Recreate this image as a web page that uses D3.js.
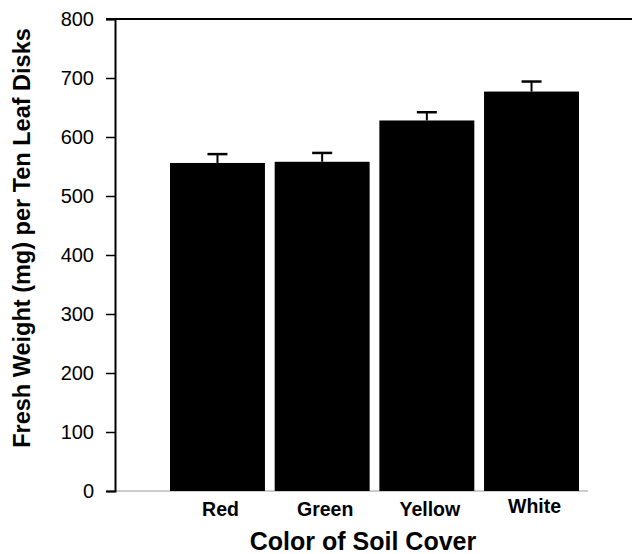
<!DOCTYPE html>
<html><head><meta charset="utf-8">
<script src="https://cdn.jsdelivr.net/npm/d3@7"></script>
<style>body{margin:0;background:#fff}svg{display:block}text{font-family:"Liberation Sans",Arial,sans-serif}</style>
</head><body>
<script>
const categories = ["Red","Green","Yellow","White"];
const values = [556, 558, 628, 677];
const errors = [15, 15, 14, 17];
const yTicks = [0,100,200,300,400,500,600,700,800];

const W=632,H=554;
const m={left:115,top:19,bottom:491};
const svg=d3.select("body").append("svg").attr("width",W).attr("height",H);
const y=d3.scaleLinear().domain([0,800]).range([m.bottom,m.top]);
const x=d3.scaleBand().domain(categories).range([170,579]).paddingInner(0.093).paddingOuter(0);

// bottom baseline
svg.append("line").attr("x1",m.left).attr("x2",588).attr("y1",m.bottom).attr("y2",m.bottom).attr("stroke","#999").attr("stroke-width",1);
// top line
svg.append("line").attr("x1",106).attr("x2",W).attr("y1",y(800)).attr("y2",y(800)).attr("stroke","#000").attr("stroke-width",2);

// bars
svg.selectAll("rect.bar").data(categories).join("rect")
  .attr("x",d=>x(d)).attr("width",x.bandwidth())
  .attr("y",(d,i)=>y(values[i])).attr("height",(d,i)=>y(0)-y(values[i])).attr("fill","#000");
// error bars
const cw=20;
categories.forEach((c,i)=>{
  const cx=x(c)+x.bandwidth()/2;
  svg.append("line").attr("x1",cx).attr("x2",cx).attr("y1",y(values[i])).attr("y2",y(values[i]+errors[i])).attr("stroke","#000").attr("stroke-width",2);
  svg.append("line").attr("x1",cx-cw/2).attr("x2",cx+cw/2).attr("y1",y(values[i]+errors[i])).attr("y2",y(values[i]+errors[i])).attr("stroke","#000").attr("stroke-width",2.5);
});

// y axis
const ya=svg.append("g").attr("transform",`translate(${m.left},0)`)
  .call(d3.axisLeft(y).tickValues(yTicks).tickSize(9).tickPadding(12));
ya.select(".domain").attr("stroke","#000").attr("stroke-width",2);
ya.selectAll(".tick line").attr("stroke","#000").attr("stroke-width",1.5);
ya.selectAll(".tick text").attr("font-size",20).attr("fill","#000").attr("font-family","'Liberation Sans',Arial,sans-serif");

// x labels
svg.selectAll("text.xl").data(categories).join("text")
  .attr("x",d=>x(d)+x.bandwidth()/2+3).attr("y",(d,i)=>i===3?513:516)
  .attr("text-anchor","middle").attr("font-size",19.5).attr("font-weight","bold").text(d=>d);

svg.append("text").attr("x",363).attr("y",550).attr("text-anchor","middle")
  .attr("font-size",25).attr("font-weight","bold").text("Color of Soil Cover");
svg.append("text").attr("transform","translate(30,238) rotate(-90)").attr("text-anchor","middle")
  .attr("font-size",23.5).attr("font-weight","bold").text("Fresh Weight (mg) per Ten Leaf Disks");
</script>
</body></html>
